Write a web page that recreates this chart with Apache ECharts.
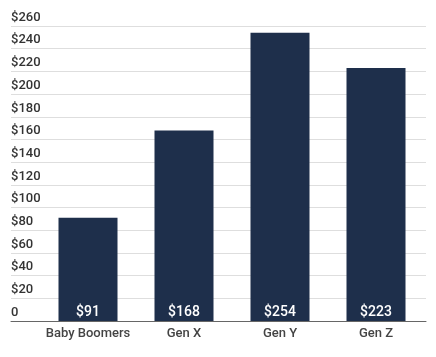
<!DOCTYPE html>
<html><head><meta charset="utf-8">
<script src="https://cdn.jsdelivr.net/npm/echarts@6/dist/echarts.min.js"></script>
<style>html,body{margin:0;padding:0;background:#fff}#c{width:436px;height:357px}</style>
</head><body><div id="c"></div>
<script>
var categories = ['Baby Boomers', 'Gen X', 'Gen Y', 'Gen Z'];
var values = [91, 168, 254, 223];
var yMin = 0, yMax = 260, yStep = 20;

var chart = echarts.init(document.getElementById('c'), null, {renderer: 'canvas'});
chart.setOption({
  animation: false,
  textStyle: {fontFamily: 'Roboto'},
  grid: [
    {left: 11, right: 10, top: 26, bottom: 36},
    {left: 40, right: 12, top: 26, bottom: 36}
  ],
  xAxis: [
    {gridIndex: 0, type: 'category', data: categories, show: true,
     axisLine: {show: true, lineStyle: {color: '#666', width: 1}},
     axisTick: {show: false}, axisLabel: {show: false}},
    {gridIndex: 1, type: 'category', data: categories,
     axisLine: {show: false}, axisTick: {show: false},
     axisLabel: {interval: 0, color: '#444', fontSize: 13, fontWeight: 500, margin: 6, fontFamily: 'Roboto'}}
  ],
  yAxis: [
    {gridIndex: 0, type: 'value', min: yMin, max: yMax, interval: yStep,
     axisLine: {show: false}, axisTick: {show: false},
     splitLine: {lineStyle: {color: '#dedede', width: 1}},
     axisLabel: {inside: true, margin: 0, verticalAlign: 'bottom', padding: [0, 0, 2, 0],
       color: '#333', fontSize: 13, fontWeight: 500, fontFamily: 'Roboto',
       formatter: function (v) { return v === 0 ? '0' : '$' + v; }}},
    {gridIndex: 1, type: 'value', min: yMin, max: yMax, interval: yStep, show: false,
     splitLine: {show: false}}
  ],
  series: [{
    type: 'bar', xAxisIndex: 1, yAxisIndex: 1, data: values, barWidth: 59,
    itemStyle: {color: '#1e2f4b'},
    label: {show: true, position: 'insideBottom', distance: 2, color: '#fff',
      fontSize: 14, fontWeight: 500, fontFamily: 'Roboto',
      formatter: function (p) { return '$' + p.value; }}
  }]
});
</script></body></html>
